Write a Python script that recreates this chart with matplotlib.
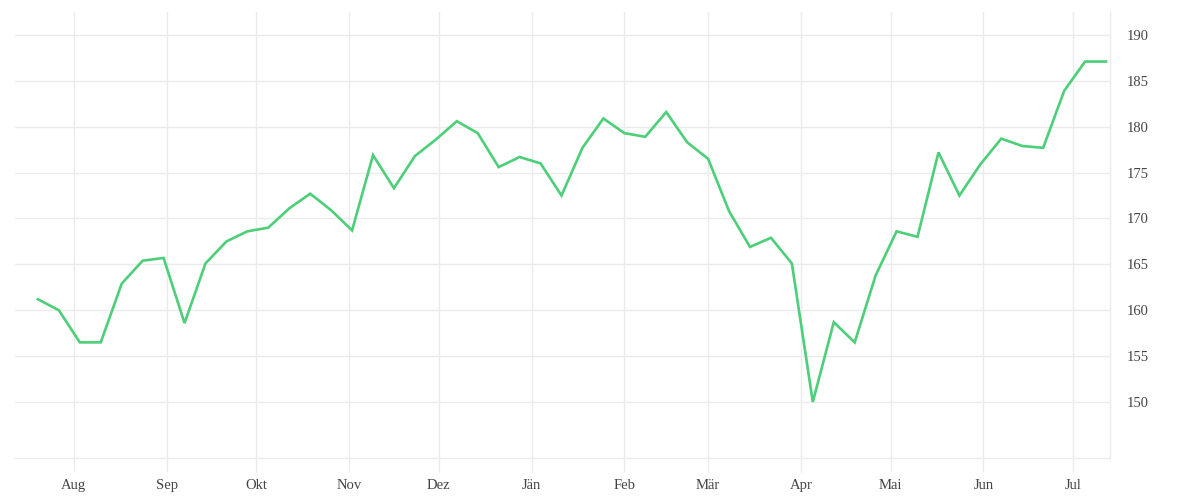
import matplotlib
matplotlib.use("Agg")
import matplotlib.pyplot as plt
import pandas as pd

start_date = "2018-07-20"
values = [
    161.2, 160.0, 156.5, 156.5, 162.9, 165.4, 165.7, 158.6, 165.1, 167.5,
    168.6, 169.0, 171.1, 172.7, 170.9, 168.7, 176.9, 173.3, 176.8, 178.6,
    180.6, 179.3, 175.6, 176.7, 176.0, 172.5, 177.7, 180.9, 179.3, 178.9,
    181.6, 178.3, 176.5, 170.8, 166.9, 167.9, 165.1, 150.0, 158.7, 156.5,
    163.8, 168.6, 168.0, 177.2, 172.5, 175.9, 178.7, 177.9, 177.7, 183.9,
    187.1, 187.1,
]
month_labels = ["Aug", "Sep", "Okt", "Nov", "Dez", "Jän", "Feb", "Mär",
                "Apr", "Mai", "Jun", "Jul"]
y_ticks = [150, 155, 160, 165, 170, 175, 180, 185, 190]

dates = pd.date_range(start_date, periods=len(values), freq="7D")
month_starts = pd.date_range("2018-08-01", periods=len(month_labels), freq="MS")

grid_col = "#ebebeb"
text_col = "#444444"

fig = plt.figure(figsize=(12, 5), dpi=100)
ax = fig.add_axes([0.0125, 0.084, 0.9125, 0.892])

ax.plot(dates, values, color="#4ccf78", linewidth=1.9, solid_joinstyle="miter")

ax.set_xlim(pd.Timestamp("2018-07-12 08:00"), pd.Timestamp("2019-07-13 08:00"))
ax.set_ylim(143.9, 192.5)

ax.set_xticks(month_starts)
ax.set_xticklabels(month_labels)
ax.set_yticks(y_ticks)
ax.yaxis.tick_right()

ax.grid(True, color=grid_col, linewidth=1)
ax.set_axisbelow(True)

for side in ["top", "left"]:
    ax.spines[side].set_visible(False)
for side in ["bottom", "right"]:
    ax.spines[side].set_color(grid_col)
    ax.spines[side].set_linewidth(1)

ax.tick_params(axis="x", length=10, color=grid_col, width=1, pad=5,
               labelsize=10.5, labelcolor=text_col)
ax.tick_params(axis="y", length=0, pad=12, labelsize=10.5, labelcolor=text_col)
for lab in ax.get_xticklabels() + ax.get_yticklabels():
    lab.set_family("Liberation Serif")

fig.savefig("out.png", dpi=100, facecolor="white")
